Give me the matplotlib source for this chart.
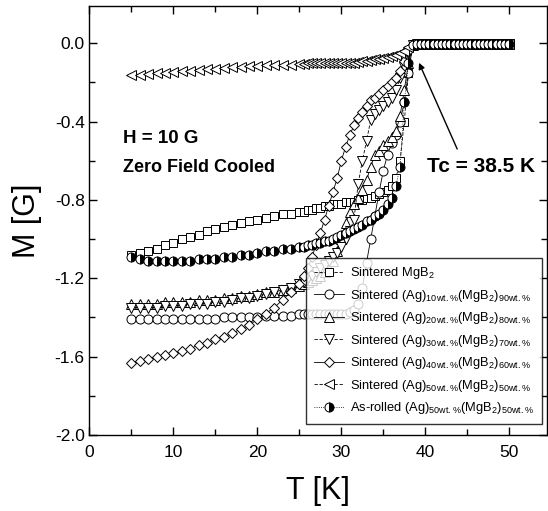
import matplotlib

matplotlib.use("Agg")
import matplotlib.pyplot as plt  # noqa: E402
from matplotlib.ticker import FormatStrFormatter, MultipleLocator  # noqa: E402

plt.rcParams["font.family"] = ["Liberation Sans", "DejaVu Sans"]
plt.rcParams["axes.unicode_minus"] = False
plt.rcParams["mathtext.default"] = "regular"

# temperature grids [K]
T_LOW = [5, 6, 7, 8, 9, 10, 11, 12, 13, 14, 15, 16, 17, 18, 19, 20, 21, 22, 23, 24, 25]
T_MID = [25.5, 26, 26.5, 27, 27.5, 28, 28.5, 29, 29.5, 30, 30.5, 31, 31.5, 32, 32.5,
         33, 33.5, 34, 34.5, 35, 35.5, 36, 36.5, 37, 37.5, 38, 38.5]
T_HIGH = [39, 39.5, 40, 40.5, 41, 41.5, 42, 42.5, 43, 43.5, 44, 44.5, 45, 45.5,
          46, 46.5, 47, 47.5, 48, 48.5, 49, 49.5, 50]
M_HIGH = [-0.005, -0.005, -0.005, -0.005, -0.005, -0.005, -0.005, -0.005, -0.005,
          -0.005, -0.005, -0.005, -0.005, -0.005, -0.005, -0.005, -0.005, -0.005,
          -0.005, -0.005, -0.005, -0.005, -0.005]

# magnetisation [G], low part (T_LOW) and transition part (T_MID)
MGB2_LOW = [-1.08, -1.07, -1.06, -1.05, -1.03, -1.02, -1.00, -0.99, -0.98, -0.96, -0.95,
            -0.94, -0.93, -0.92, -0.91, -0.90, -0.89, -0.88, -0.87, -0.87, -0.86]
MGB2_MID = [-0.86, -0.85, -0.85, -0.84, -0.84, -0.83, -0.83, -0.82, -0.82, -0.82, -0.81,
            -0.81, -0.81, -0.80, -0.80, -0.79, -0.79, -0.78, -0.77, -0.76, -0.75, -0.73,
            -0.69, -0.60, -0.40, -0.15, -0.01]

AG10_LOW = [-1.41, -1.41, -1.41, -1.41, -1.41, -1.41, -1.41, -1.41, -1.41, -1.41, -1.41,
            -1.40, -1.40, -1.40, -1.40, -1.40, -1.39, -1.39, -1.39, -1.39, -1.38]
AG10_MID = [-1.38, -1.38, -1.38, -1.38, -1.38, -1.38, -1.38, -1.38, -1.38, -1.38, -1.38,
            -1.37, -1.36, -1.33, -1.25, -1.12, -1.00, -0.88, -0.76, -0.65, -0.57, -0.51,
            -0.47, -0.40, -0.30, -0.15, -0.01]

AG20_LOW = [-1.33, -1.33, -1.33, -1.33, -1.32, -1.32, -1.32, -1.32, -1.31, -1.31, -1.31,
            -1.30, -1.30, -1.29, -1.29, -1.28, -1.27, -1.27, -1.26, -1.25, -1.24]
AG20_MID = [-1.23, -1.22, -1.21, -1.20, -1.19, -1.17, -1.15, -1.11, -1.06, -1.00, -0.92,
            -0.86, -0.82, -0.79, -0.75, -0.70, -0.63, -0.57, -0.55, -0.52, -0.50, -0.48,
            -0.45, -0.37, -0.24, -0.10, -0.01]

AG30_LOW = [-1.35, -1.35, -1.35, -1.35, -1.34, -1.34, -1.34, -1.33, -1.33, -1.33, -1.32,
            -1.32, -1.31, -1.30, -1.30, -1.29, -1.28, -1.27, -1.26, -1.25, -1.23]
AG30_MID = [-1.22, -1.20, -1.19, -1.17, -1.15, -1.13, -1.11, -1.09, -1.07, -1.04, -1.00,
            -0.96, -0.90, -0.72, -0.60, -0.50, -0.39, -0.36, -0.34, -0.32, -0.30, -0.28,
            -0.24, -0.18, -0.12, -0.05, -0.01]

AG40_LOW = [-1.63, -1.62, -1.61, -1.60, -1.59, -1.58, -1.57, -1.56, -1.54, -1.53, -1.51,
            -1.50, -1.48, -1.46, -1.44, -1.41, -1.38, -1.35, -1.31, -1.27, -1.23]
AG40_MID = [-1.19, -1.15, -1.09, -1.03, -0.97, -0.90, -0.83, -0.76, -0.69, -0.60, -0.53,
            -0.47, -0.42, -0.38, -0.35, -0.32, -0.29, -0.28, -0.26, -0.24, -0.22, -0.20,
            -0.18, -0.14, -0.09, -0.04, -0.01]

AG50_LOW = [-0.16, -0.16, -0.155, -0.15, -0.15, -0.145, -0.14, -0.14, -0.135, -0.13, -0.13,
            -0.125, -0.12, -0.12, -0.115, -0.115, -0.11, -0.11, -0.11, -0.11, -0.105]
AG50_MID = [-0.105, -0.10, -0.10, -0.10, -0.10, -0.10, -0.10, -0.10, -0.10, -0.10, -0.10,
            -0.10, -0.10, -0.095, -0.09, -0.09, -0.085, -0.08, -0.08, -0.075, -0.07,
            -0.065, -0.06, -0.05, -0.04, -0.02, -0.005]

ROLLED_LOW = [-1.09, -1.10, -1.11, -1.11, -1.11, -1.11, -1.11, -1.11, -1.10, -1.10, -1.10,
              -1.09, -1.09, -1.08, -1.08, -1.07, -1.06, -1.06, -1.05, -1.05, -1.04]
ROLLED_MID = [-1.04, -1.03, -1.03, -1.02, -1.02, -1.01, -1.01, -1.00, -0.99, -0.98, -0.97,
              -0.96, -0.95, -0.94, -0.93, -0.91, -0.90, -0.88, -0.87, -0.85, -0.82, -0.79,
              -0.73, -0.63, -0.30, -0.10, -0.01]

LABELS = [
    "Sintered MgB$_2$",
    "Sintered (Ag)$_{10wt.\\%}$(MgB$_2$)$_{90wt.\\%}$",
    "Sintered (Ag)$_{20wt.\\%}$(MgB$_2$)$_{80wt.\\%}$",
    "Sintered (Ag)$_{30wt.\\%}$(MgB$_2$)$_{70wt.\\%}$",
    "Sintered (Ag)$_{40wt.\\%}$(MgB$_2$)$_{60wt.\\%}$",
    "Sintered (Ag)$_{50wt.\\%}$(MgB$_2$)$_{50wt.\\%}$",
    "As-rolled (Ag)$_{50wt.\\%}$(MgB$_2$)$_{50wt.\\%}$",
]
SERIES = [(MGB2_LOW, MGB2_MID), (AG10_LOW, AG10_MID), (AG20_LOW, AG20_MID),
          (AG30_LOW, AG30_MID), (AG40_LOW, AG40_MID), (AG50_LOW, AG50_MID),
          (ROLLED_LOW, ROLLED_MID)]
MARKERS = ["s", "o", "^", "v", "D", "<", "o"]
MSIZES = [6.0, 6.5, 6.8, 6.8, 5.5, 6.8, 6.5]
LSTYLES = [(0, (4, 2)), "-", "-", (0, (4, 2)), "-", (0, (4, 2)), ":"]

fig = plt.figure(figsize=(5.48, 5.11), dpi=100, facecolor="white")
ax = fig.add_axes([0.1633, 0.1487, 0.8349, 0.8396])

T_all = T_LOW + T_MID + T_HIGH
for i, ((lo, mid), lab) in enumerate(zip(SERIES, LABELS)):
    m_all = lo + mid + M_HIGH
    kw = dict(marker=MARKERS[i], ms=MSIZES[i], mfc="white", mec="black", mew=0.7,
              color="black", lw=0.6, ls=LSTYLES[i], label=lab)
    if i == 6:
        kw.update(mfc="black", mfcalt="white", fillstyle="right")
    ax.plot(T_all, m_all, **kw)

ax.set_xlim(0, 54.5)
ax.set_ylim(-2.0, 0.19)
ax.xaxis.set_major_locator(MultipleLocator(10))
ax.xaxis.set_minor_locator(MultipleLocator(5))
ax.yaxis.set_major_locator(MultipleLocator(0.4))
ax.yaxis.set_minor_locator(MultipleLocator(0.2))
ax.yaxis.set_major_formatter(FormatStrFormatter("%.1f"))
ax.tick_params(which="both", direction="in", top=True, right=True, labelsize=12.5,
               width=1.0)
ax.tick_params(which="major", length=6)
ax.tick_params(axis="x", which="major", pad=7)
ax.tick_params(which="minor", length=4)
for s in ax.spines.values():
    s.set_linewidth(1.0)

ax.set_xlabel("T [K]", fontsize=22, labelpad=12)
ax.set_ylabel("M [G]", fontsize=22, labelpad=9)

ax.text(3.95, -0.51, "H = 10 G", fontsize=13.5, fontweight="bold", va="baseline")
ax.text(3.95, -0.66, "Zero Field Cooled", fontsize=13, fontweight="bold",
        va="baseline")
ax.text(40.2, -0.66, "Tc = 38.5 K", fontsize=15, fontweight="bold", va="baseline")
ax.annotate("", xy=(39.25, -0.10), xytext=(43.8, -0.54),
            arrowprops=dict(arrowstyle="-|>", color="black", lw=1.0,
                            mutation_scale=9, shrinkA=0, shrinkB=0))

leg = ax.legend(loc="lower left", bbox_to_anchor=(0.474, 0.026), borderaxespad=0,
                fontsize=9.3, frameon=True, fancybox=False, edgecolor="black",
                handlelength=2.3, handletextpad=0.5, labelspacing=0.5,
                borderpad=0.6)
leg.get_frame().set_linewidth(1.0)

fig.savefig("out.png", dpi=100, facecolor="white")
